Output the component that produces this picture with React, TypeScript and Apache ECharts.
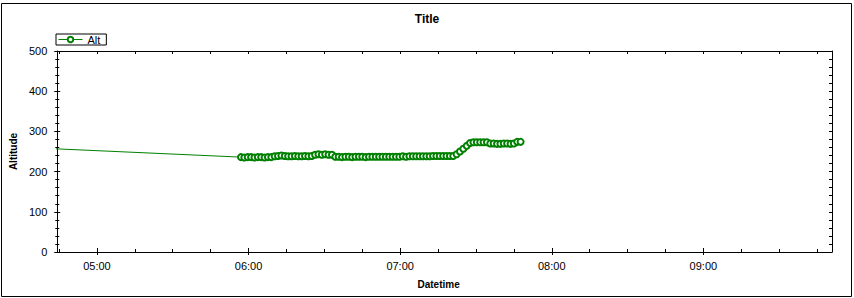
import React, { useEffect, useRef } from "react";
import * as echarts from "echarts";

// ---- data ----
const times: string[] = [
  "04:00:00",
  "05:57:00", "05:58:20", "05:59:40", "06:01:00", "06:02:20", "06:03:40", "06:05:00", "06:06:20",
  "06:07:40", "06:09:00", "06:10:20", "06:11:40", "06:13:00", "06:14:20", "06:15:40", "06:17:00",
  "06:18:20", "06:19:40", "06:21:00", "06:22:20", "06:23:40", "06:25:00", "06:26:20", "06:27:40",
  "06:29:00", "06:30:20", "06:31:40", "06:33:00", "06:34:20", "06:35:40", "06:37:00", "06:38:20",
  "06:39:40", "06:41:00", "06:42:20", "06:43:40", "06:45:00", "06:46:20", "06:47:40", "06:49:00",
  "06:50:20", "06:51:40", "06:53:00", "06:54:20", "06:55:40", "06:57:00", "06:58:20", "06:59:40",
  "07:01:00", "07:02:20", "07:03:40", "07:05:00", "07:06:20", "07:07:40", "07:09:00", "07:10:20",
  "07:11:40", "07:13:00", "07:14:20", "07:15:40", "07:17:00", "07:18:20", "07:19:40", "07:21:00",
  "07:22:20", "07:23:40", "07:25:00", "07:26:20", "07:27:40", "07:29:00", "07:30:20", "07:31:40",
  "07:33:00", "07:34:20", "07:35:40", "07:37:00", "07:38:20", "07:39:40", "07:41:00", "07:42:20",
  "07:43:40", "07:45:00", "07:46:20", "07:47:40",
];

const altitudes: number[] = [
  269,
  236, 235, 236, 236, 235, 236, 236, 235,
  236, 236, 238, 239, 240, 239, 238, 238,
  239, 238, 238, 239, 238, 239, 242, 243,
  242, 243, 242, 242, 237, 237, 236, 237,
  237, 236, 237, 237, 237, 236, 237, 237,
  237, 237, 237, 237, 237, 237, 237, 237,
  238, 237, 238, 238, 238, 238, 238, 238,
  238, 239, 239, 239, 239, 239, 239, 239,
  243, 250, 257, 264, 271, 273, 273, 273,
  273, 273, 270, 270, 269, 269, 270, 270,
  269, 270, 274, 274,
];

const xMinTime = "04:44:18";
const xMaxTime = "09:50:54";
const hourTicks: string[] = ["05:00", "06:00", "07:00", "08:00", "09:00"];
const quarterTicks: string[] = [
  "04:45", "05:00", "05:15", "05:30", "05:45", "06:00", "06:15", "06:30", "06:45",
  "07:00", "07:15", "07:30", "07:45", "08:00", "08:15", "08:30", "08:45", "09:00",
  "09:15", "09:30", "09:45",
];
const yMin = 0;
const yMax = 500;
const yMajor = 100;
const yMinor = 20;

const toMin = (s: string): number => {
  const p = s.split(":").map(Number);
  return p[0] * 60 + p[1] + (p[2] || 0) / 60;
};
const fmt = (v: number): string => {
  const h = Math.floor(Math.round(v) / 60);
  const m = Math.round(v) % 60;
  return String(h).padStart(2, "0") + ":" + String(m).padStart(2, "0");
};

const FONT = "'Liberation Sans', Arial, sans-serif";
const GREEN = "#008000";

export default function App() {
  const ref = useRef<HTMLDivElement>(null);
  useEffect(() => {
    if (!ref.current) return;
    const chart = echarts.init(ref.current, null, { renderer: "svg" });
    const xmin = toMin(xMinTime);
    const xmax = toMin(xMaxTime);
    const hours = hourTicks.map(toMin);
    const quarters = quarterTicks.map(toMin);
    const data = times.map((t, i) => [toMin(t), altitudes[i]]);

    const baseX = {
      type: "value" as const,
      min: xmin,
      max: xmax,
      splitLine: { show: false },
      axisLabel: { show: false },
      axisLine: { show: false },
    };
    const baseY = {
      type: "value" as const,
      min: yMin,
      max: yMax,
      splitLine: { show: false },
      axisLabel: { show: false },
      axisLine: { show: false },
    };

    chart.setOption({
      animation: false,
      backgroundColor: "#fff",
      textStyle: { fontFamily: FONT },
      title: {
        text: "Title",
        left: "center",
        top: 8,
        textStyle: { fontSize: 12, fontWeight: "bold", color: "#000", fontFamily: FONT },
      },
      legend: {
        left: 56,
        top: 34,
        padding: [0, 6, 0, 2],
        itemWidth: 24,
        itemHeight: 7,
        itemGap: 5,
        borderColor: "#000",
        borderWidth: 1,
        borderRadius: 0,
        lineStyle: { width: 1 },
        itemStyle: { borderWidth: 1 },
        textStyle: { fontSize: 11, color: "#000", fontFamily: FONT },
        data: ["Alt"],
      },
      grid: { left: 56, right: 22, top: 51, bottom: 46, containLabel: false },
      xAxis: [
        {
          ...baseX,
          position: "bottom",
          name: "Datetime",
          nameLocation: "middle",
          nameGap: 27,
          nameTextStyle: { fontSize: 10, fontWeight: "bold", color: "#000", fontFamily: FONT, padding: [0, 12, 0, 0] },
          axisLine: { show: true, onZero: false, lineStyle: { color: "#000", width: 1 } },
          axisTick: { show: true, inside: false, length: 3, customValues: hours, lineStyle: { color: "#000" } },
          axisLabel: { show: true, customValues: hours, formatter: (v: number) => fmt(v), fontSize: 11, color: "#000", margin: 8, fontFamily: FONT },
        },
        {
          ...baseX,
          position: "bottom",
          axisTick: { show: true, inside: true, length: 4, customValues: hours, lineStyle: { color: "#000" } },
        },
        {
          ...baseX,
          position: "bottom",
          axisTick: { show: true, inside: false, length: 1, customValues: quarters, lineStyle: { color: "#000" } },
        },
        {
          ...baseX,
          position: "bottom",
          axisTick: { show: true, inside: true, length: 3, customValues: quarters, lineStyle: { color: "#000" } },
        },
        {
          ...baseX,
          position: "top",
          axisLine: { show: true, onZero: false, lineStyle: { color: "#000", width: 1 } },
          axisTick: { show: true, inside: true, length: 3, customValues: quarters, lineStyle: { color: "#000" } },
        },
      ],
      yAxis: [
        {
          ...baseY,
          position: "left",
          interval: yMajor,
          name: "Altitude",
          nameLocation: "middle",
          nameGap: 37,
          nameTextStyle: { fontSize: 10, fontWeight: "bold", color: "#000", fontFamily: FONT },
          axisLine: { show: true, onZero: false, lineStyle: { color: "#000", width: 1 } },
          axisTick: { show: true, inside: false, length: 3, lineStyle: { color: "#000" } },
          axisLabel: { show: true, fontSize: 11, color: "#000", margin: 10, fontFamily: FONT },
        },
        {
          ...baseY,
          position: "left",
          interval: yMajor,
          axisTick: { show: true, inside: true, length: 3, lineStyle: { color: "#000" } },
        },
        {
          ...baseY,
          position: "left",
          interval: yMinor,
          axisTick: { show: true, inside: false, length: 2, lineStyle: { color: "#000" } },
        },
        {
          ...baseY,
          position: "left",
          interval: yMinor,
          axisTick: { show: true, inside: true, length: 2, lineStyle: { color: "#000" } },
        },
        {
          ...baseY,
          position: "right",
          interval: yMinor,
          axisLine: { show: true, onZero: false, lineStyle: { color: "#000", width: 1 } },
          axisTick: { show: true, inside: true, length: 3, lineStyle: { color: "#000" } },
        },
      ],
      graphic: [
        {
          type: "rect",
          shape: { x: 1.5, y: 3.5, width: 850, height: 293 },
          style: { fill: "none", stroke: "#000", lineWidth: 1 },
          silent: true,
        },
      ],
      series: [
        {
          name: "Alt",
          type: "line",
          xAxisIndex: 0,
          yAxisIndex: 0,
          data,
          clip: true,
          symbol: "emptyCircle",
          symbolSize: 6,
          showAllSymbol: true,
          lineStyle: { color: GREEN, width: 1 },
          itemStyle: { color: GREEN, borderColor: GREEN, borderWidth: 1 },
        },
      ],
    });
    return () => chart.dispose();
  }, []);

  return (
    <div
      ref={ref}
      style={{ position: "fixed", left: 0, top: 0, width: 854, height: 298 }}
    />
  );
}
